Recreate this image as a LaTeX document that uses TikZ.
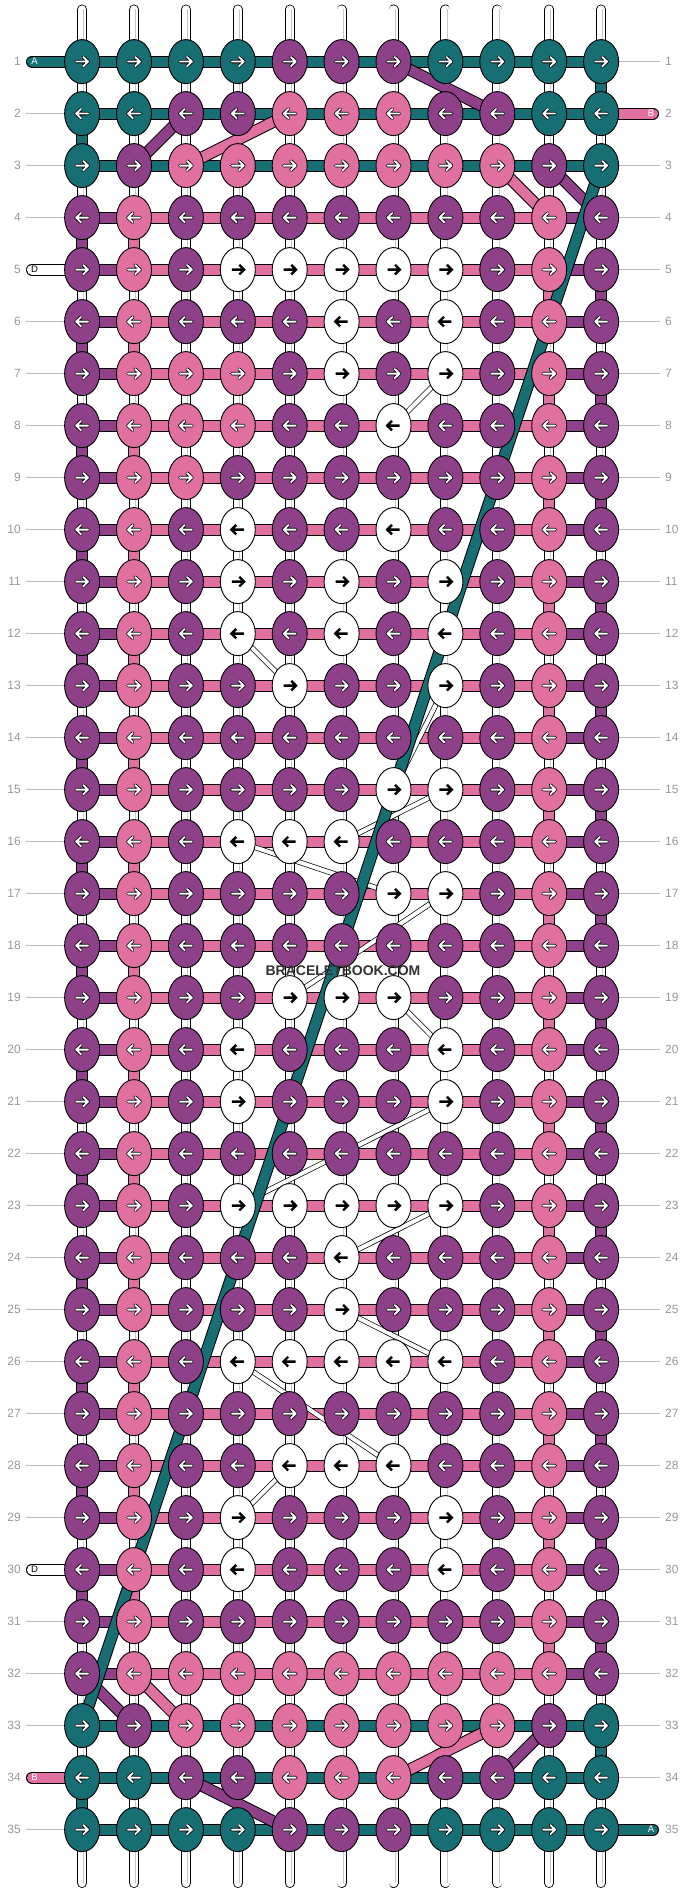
\documentclass[tikz,border=0pt]{standalone}
\usepackage{fontspec}
\setmainfont{Liberation Sans}
\usetikzlibrary{shapes.geometric}
\definecolor{cT}{HTML}{176E73}
\definecolor{cP}{HTML}{8E4189}
\definecolor{cK}{HTML}{E070A0}
\definecolor{cW}{HTML}{FFFFFF}
\definecolor{lblgray}{HTML}{999999}
\definecolor{linegray}{HTML}{BDBDBD}
\definecolor{tubegray}{HTML}{C8C8C8}
\definecolor{wmark}{HTML}{333333}
\pgfdeclarelayer{tubes}
\pgfdeclarelayer{bars}
\pgfdeclarelayer{vconn}
\pgfdeclarelayer{diag}
\pgfsetlayers{tubes,bars,vconn,diag,main}
\tikzset{
  knot/.style={draw=black, line width=0.9pt, ellipse, minimum width=35pt, minimum height=44pt, inner sep=0pt},
  band/.style={draw=black, line width=1pt, double=#1, double distance=10pt},
  thinband/.style={draw=black, line width=0.7pt, double=white, double distance=4pt},
  tube/.style={draw=black, line width=0.8pt, double=white, double distance=8.4pt, line cap=round},
  tubeline/.style={draw=tubegray, line width=0.8pt},
  lbl/.style={text=lblgray, font=\fontsize{12}{14}\selectfont, inner sep=0pt},
  gl/.style={draw=linegray, line width=1pt},
  stubtxt/.style={font=\fontsize{9.5}{11}\selectfont, inner sep=0pt},
  warrow/.style={line cap=round, line join=round},
}
\begin{document}
\begin{tikzpicture}[x=1pt,y=-1pt]
\useasboundingbox (0,0) rectangle (688,1892);
\begin{pgfonlayer}{tubes}
\fill[white] (0,0) rectangle (688,1892);
\end{pgfonlayer}

% knots
\foreach \r/\cols in {
 1/{T,T,T,T,P,P,P,T,T,T,T},
 2/{T,T,P,P,K,K,K,P,P,T,T},
 3/{T,P,K,K,K,K,K,K,K,P,T},
 4/{P,K,P,P,P,P,P,P,P,K,P},
 5/{P,K,P,W,W,W,W,W,P,K,P},
 6/{P,K,P,P,P,W,P,W,P,K,P},
 7/{P,K,K,K,P,W,P,W,P,K,P},
 8/{P,K,K,K,P,P,W,P,P,K,P},
 9/{P,K,K,P,P,P,P,P,P,K,P},
 10/{P,K,P,W,P,P,W,P,P,K,P},
 11/{P,K,P,W,P,W,P,W,P,K,P},
 12/{P,K,P,W,P,W,P,W,P,K,P},
 13/{P,K,P,P,W,P,P,W,P,K,P},
 14/{P,K,P,P,P,P,P,P,P,K,P},
 15/{P,K,P,P,P,P,W,W,P,K,P},
 16/{P,K,P,W,W,W,P,P,P,K,P},
 17/{P,K,P,P,P,P,W,W,P,K,P},
 18/{P,K,P,P,P,P,P,P,P,K,P},
 19/{P,K,P,P,W,W,W,P,P,K,P},
 20/{P,K,P,W,P,P,P,W,P,K,P},
 21/{P,K,P,W,P,P,P,W,P,K,P},
 22/{P,K,P,P,P,P,P,P,P,K,P},
 23/{P,K,P,W,W,W,W,W,P,K,P},
 24/{P,K,P,P,P,W,P,P,P,K,P},
 25/{P,K,P,P,P,W,P,P,P,K,P},
 26/{P,K,P,W,W,W,W,W,P,K,P},
 27/{P,K,P,P,P,P,P,P,P,K,P},
 28/{P,K,P,P,W,W,W,P,P,K,P},
 29/{P,K,P,W,P,P,P,W,P,K,P},
 30/{P,K,P,W,P,P,P,W,P,K,P},
 31/{P,K,P,P,P,P,P,P,P,K,P},
 32/{P,K,K,K,K,K,K,K,K,K,P},
 33/{T,P,K,K,K,K,K,K,K,P,T},
 34/{T,T,P,P,K,K,K,P,P,T,T},
 35/{T,T,T,T,P,P,P,T,T,T,T}} {
  \pgfmathtruncatemacro{\dir}{mod(\r,2)==1 ? 1 : -1}
  \foreach \k [count=\c] in \cols {
    \node[knot, fill=c\k] (k-\r-\c) at ({82.1+51.9*(\c-1)},{61.6+52*(\r-1)}) {};
    \begin{scope}[shift={(k-\r-\c.center)}, xscale=\dir]
      \if\k W
        \draw[black, line width=2.4pt] (-6,0) -- (5.5,0) (1.5,-4.8) -- (6.3,0) -- (1.5,4.8);
      \else
        \draw[black, line width=3.4pt, warrow] (-6,0) -- (6,0) (1.2,-4.6) -- (6,0) -- (1.2,4.6);
        \draw[white, line width=1.8pt, warrow] (-6,0) -- (6,0) (1.2,-4.6) -- (6,0) -- (1.2,4.6);
      \fi
    \end{scope}
  }
}

% base strings (tubes)
\begin{pgfonlayer}{tubes}
\foreach \c in {1,...,11} {
  \coordinate (tt-\c) at ({82.1+51.9*(\c-1)},9.5);
  \coordinate (tb-\c) at ({82.1+51.9*(\c-1)},1883);
  \draw[tube] (tt-\c) -- (tb-\c);
  \draw[tubeline] ([xshift=1.6pt]tt-\c) -- ([xshift=1.6pt]tb-\c);
}
\end{pgfonlayer}

% horizontal bars, labels, label lines
\begin{pgfonlayer}{bars}
\foreach \r in {1,...,35} {
  \foreach \c in {1,...,10} {
    \pgfmathtruncatemacro{\cn}{\c+1}
    \pgfmathtruncatemacro{\zone}{(\r<4 || \r>32) ? 0 : ((\c==1 || \c==10) ? 1 : 2)}
    \ifcase\zone \def\bc{cT}\or \def\bc{cP}\or \def\bc{cK}\fi
    \draw[band=\bc] (k-\r-\c.center) -- (k-\r-\cn.center);
  }
  \node[lbl, anchor=east] (L-\r) at (21,{61.6+52*(\r-1)}) {\r};
  \node[lbl, anchor=west] (R-\r) at (665,{61.6+52*(\r-1)}) {\r};
  \pgfmathtruncatemacro{\hasL}{(\r==1 || \r==5 || \r==30 || \r==34) ? 0 : 1}
  \pgfmathtruncatemacro{\hasR}{(\r==2 || \r==35) ? 0 : 1}
  \ifnum\hasL=1 \draw[gl] ([xshift=5pt]L-\r.east) -- (k-\r-1.center); \fi
  \ifnum\hasR=1 \draw[gl] (k-\r-11.center) -- ([xshift=-5pt]R-\r.west); \fi
}
% string ends
\coordinate (sA1) at (32,61.6);
\coordinate (sB2) at (653,113.6);
\coordinate (sD5) at (32,269.6);
\coordinate (sD30) at (32,1569.6);
\coordinate (sB34) at (32,1777.6);
\coordinate (sA35) at (653,1829.6);
\draw[band=cT, line cap=round] (sA1) -- (k-1-1.center);
\draw[band=cK, line cap=round] (k-2-11.center) -- (sB2);
\draw[band=white, line cap=round] (sD5) -- (k-5-1.center);
\draw[band=white, line cap=round] (sD30) -- (k-30-1.center);
\draw[band=cK, line cap=round] (sB34) -- (k-34-1.center);
\draw[band=cT, line cap=round] (k-35-11.center) -- (sA35);
\node[stubtxt, text=white] (tA1) at (34.5,61.6) {A};
\node[stubtxt, text=white] (tB2) at (651,113.6) {B};
\node[stubtxt, text=black] (tD5) at (34.5,269.6) {D};
\node[stubtxt, text=black] (tD30) at (34.5,1569.6) {D};
\node[stubtxt, text=white] (tB34) at (34.5,1777.6) {B};
\node[stubtxt, text=white] (tA35) at (651,1829.6) {A};
\end{pgfonlayer}

% vertical colored connectors
\begin{pgfonlayer}{vconn}
\draw[band=cT] (k-1-11.center) -- (k-2-11.center);
\draw[band=cT] (k-2-1.center) -- (k-3-1.center);
\draw[band=cT] (k-33-11.center) -- (k-34-11.center);
\draw[band=cT] (k-34-1.center) -- (k-35-1.center);
\foreach \r in {4,6,...,30} {
  \pgfmathtruncatemacro{\rn}{\r+1}
  \draw[band=cP] (k-\r-1.center) -- (k-\rn-1.center);
  \draw[band=cK] (k-\r-2.center) -- (k-\rn-2.center);
}
\foreach \r in {5,7,...,31} {
  \pgfmathtruncatemacro{\rn}{\r+1}
  \draw[band=cK] (k-\r-10.center) -- (k-\rn-10.center);
  \draw[band=cP] (k-\r-11.center) -- (k-\rn-11.center);
}
\end{pgfonlayer}

% diagonal strings
\begin{pgfonlayer}{diag}
\foreach \ca/\ra/\cb/\rb in {8/7/7/8, 4/12/5/13, 8/13/7/15, 8/15/6/16, 4/16/7/17,
  8/17/5/19, 7/19/8/20, 8/21/4/23, 8/23/6/24, 6/25/8/26, 4/26/7/28, 5/28/4/29} {
  \draw[thinband] (k-\ra-\ca.center) -- (k-\rb-\cb.center);
}
\foreach \col/\ca/\ra/\cb/\rb in {cP/7/1/9/2, cP/3/2/2/3, cK/5/2/3/3, cK/9/3/10/4, cP/10/3/11/4,
  cP/1/32/2/33, cK/2/32/3/33, cK/9/33/7/34, cP/10/33/9/34, cP/3/34/5/35} {
  \draw[band=\col] (k-\ra-\ca.center) -- (k-\rb-\cb.center);
}
\draw[band=cT] (k-3-11.center) -- (k-33-1.center);
\end{pgfonlayer}

\node[font=\bfseries\fontsize{14}{16}\selectfont, text=wmark, inner sep=0pt] (wm) at (343,971) {BRACELETBOOK.COM};
\end{tikzpicture}
\end{document}
